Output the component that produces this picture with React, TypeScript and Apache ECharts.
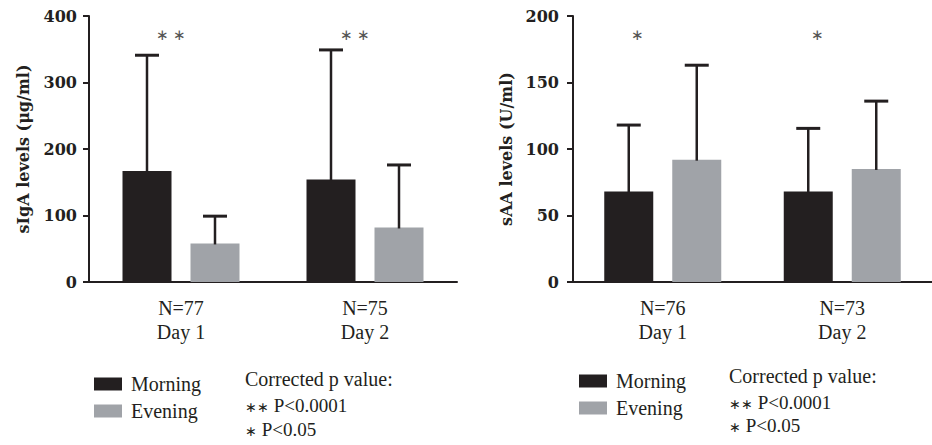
import React, { useEffect, useRef } from "react";
import * as echarts from "echarts";

const categoriesLeft = ["N=77\nDay 1", "N=75\nDay 2"];
const categoriesRight = ["N=76\nDay 1", "N=73\nDay 2"];
const seriesNames = ["Morning", "Evening"];

const sigaMorning = [167, 154];
const sigaMorningSD = [174, 195];
const sigaEvening = [58, 82];
const sigaEveningSD = [41, 94];

const saaMorning = [68, 68];
const saaMorningSD = [50, 47.5];
const saaEvening = [92, 85];
const saaEveningSD = [71, 51];

const sigaStars = ["∗ ∗", "∗ ∗"];
const saaStars = ["∗", "∗"];
const sigaStarLevel = 372;
const saaStarLevel = 186;

const yTicksLeft = { min: 0, max: 400, interval: 100 };
const yTicksRight = { min: 0, max: 200, interval: 50 };

const noteTitle = "Corrected p value:";
const noteStars = ["∗∗", "∗"];
const noteTexts = [" P<0.0001", " P<0.05"];

const INK = "#231f20";
const GRAY = "#a0a3a8";
const SERIF = "'Liberation Serif', 'Times New Roman', serif";
const BOLD_SERIF = "'DejaVu Serif', serif";
const BAR_W = 49;
const BAR_GAP = 19;
const OFF = (BAR_W + BAR_GAP) / 2;

function errorSeries(gridIdx: number, vals: number[], sds: number[], offset: number) {
  return {
    type: "custom",
    xAxisIndex: gridIdx,
    yAxisIndex: gridIdx,
    z: 5,
    silent: true,
    data: vals.map((v, i) => [i, v, sds[i]]),
    renderItem: (params: any, api: any) => {
      const c = api.value(0);
      const v = api.value(1);
      const sd = api.value(2);
      const b = api.coord([c, v]);
      const t = api.coord([c, v + sd]);
      const x = b[0] + offset;
      return {
        type: "group",
        children: [
          { type: "line", shape: { x1: x, y1: b[1] + 1, x2: x, y2: t[1] }, style: { stroke: INK, lineWidth: 2.5 } },
          { type: "line", shape: { x1: x - 12, y1: t[1], x2: x + 12, y2: t[1] }, style: { stroke: INK, lineWidth: 3 } },
        ],
      };
    },
  };
}

function starSeries(gridIdx: number, labels: string[], level: number, offset: number) {
  return {
    type: "custom",
    xAxisIndex: gridIdx,
    yAxisIndex: gridIdx,
    z: 5,
    silent: true,
    data: labels.map((_, i) => [i, level]),
    renderItem: (params: any, api: any) => {
      const p = api.coord([api.value(0), api.value(1)]);
      return {
        type: "text",
        x: p[0] + offset,
        y: p[1],
        style: {
          text: labels[params.dataIndex],
          align: "center",
          verticalAlign: "middle",
          font: `15px ${SERIF}`,
          fill: "#555",
        },
      };
    },
  };
}

function xAxis(gridIdx: number, cats: string[]) {
  return {
    type: "category",
    gridIndex: gridIdx,
    data: cats,
    axisLine: { lineStyle: { color: INK, width: 2 } },
    axisTick: { alignWithLabel: true, length: 7, lineStyle: { color: INK, width: 2 } },
    axisLabel: { color: INK, fontFamily: SERIF, fontSize: 20, lineHeight: 24, margin: 14 },
  };
}

function yAxis(gridIdx: number, ticks: any, name: string, gap: number, margin: number) {
  return {
    type: "value",
    gridIndex: gridIdx,
    ...ticks,
    name,
    nameLocation: "middle",
    nameGap: gap,
    nameTextStyle: { color: INK, fontFamily: BOLD_SERIF, fontWeight: "bold", fontSize: 16 },
    splitLine: { show: false },
    axisLine: { show: true, lineStyle: { color: INK, width: 2 } },
    axisTick: { show: true, length: 6, lineStyle: { color: INK, width: 2 } },
    axisLabel: { color: INK, fontFamily: BOLD_SERIF, fontWeight: "bold", fontSize: 16, margin },
  };
}

function barSeries(name: string, gridIdx: number, data: number[], color: string) {
  return {
    type: "bar",
    name,
    xAxisIndex: gridIdx,
    yAxisIndex: gridIdx,
    data,
    barWidth: BAR_W,
    barGap: `${(BAR_GAP / BAR_W) * 100}%`,
    itemStyle: { color },
    silent: true,
  };
}

function notes(x: number, ys: number[]) {
  const items: any[] = [
    {
      type: "text",
      left: x,
      top: ys[0] - 11,
      style: { text: noteTitle, font: `20px ${SERIF}`, fill: INK },
    },
  ];
  noteStars.forEach((s, i) => {
    items.push({
      type: "text",
      left: x,
      top: ys[i + 1] - 11,
      style: {
        text: `{s|${s}}{t|${noteTexts[i]}}`,
        rich: {
          s: { fontFamily: SERIF, fontSize: 14, fill: INK, color: INK, padding: [4, 0, 0, 0] },
          t: { fontFamily: SERIF, fontSize: 19, fill: INK, color: INK },
        },
        fill: INK,
      },
    });
  });
  return items;
}

export default function App() {
  const ref = useRef<HTMLDivElement>(null);
  useEffect(() => {
    if (!ref.current) return;
    const chart = echarts.init(ref.current, undefined, { renderer: "svg" });
    const legendCommon = {
      orient: "vertical",
      data: seriesNames,
      icon: "rect",
      itemWidth: 28,
      itemHeight: 13,
      itemGap: 7,
      textStyle: { color: INK, fontFamily: SERIF, fontSize: 20, padding: [0, 0, 0, 4] },
      selectedMode: false,
    };
    chart.setOption({
      animation: false,
      backgroundColor: "#fff",
      grid: [
        { left: 89, top: 16, width: 368, height: 266 },
        { left: 573, top: 16, width: 366, height: 266 },
      ],
      xAxis: [xAxis(0, categoriesLeft), xAxis(1, categoriesRight)],
      yAxis: [
        yAxis(0, yTicksLeft, "sIgA levels (μg/ml)", 58, 12),
        yAxis(1, yTicksRight, "sAA levels (U/ml)", 59, 14),
      ],
      legend: [
        { ...legendCommon, left: 89, top: 369 },
        { ...legendCommon, left: 574, top: 366 },
      ],
      series: [
        barSeries("Morning", 0, sigaMorning, INK),
        barSeries("Evening", 0, sigaEvening, GRAY),
        barSeries("Morning", 1, saaMorning, INK),
        barSeries("Evening", 1, saaEvening, GRAY),
        errorSeries(0, sigaMorning, sigaMorningSD, -OFF),
        errorSeries(0, sigaEvening, sigaEveningSD, OFF),
        errorSeries(1, saaMorning, saaMorningSD, -OFF),
        errorSeries(1, saaEvening, saaEveningSD, OFF),
        starSeries(0, sigaStars, sigaStarLevel, -10),
        starSeries(1, saaStars, saaStarLevel, -25),
      ],
      graphic: [...notes(245, [380, 407, 431]), ...notes(729, [377, 404, 427])],
    });
    return () => chart.dispose();
  }, []);
  return <div ref={ref} style={{ width: 932, height: 445, position: "absolute", left: 0, top: 0 }} />;
}
